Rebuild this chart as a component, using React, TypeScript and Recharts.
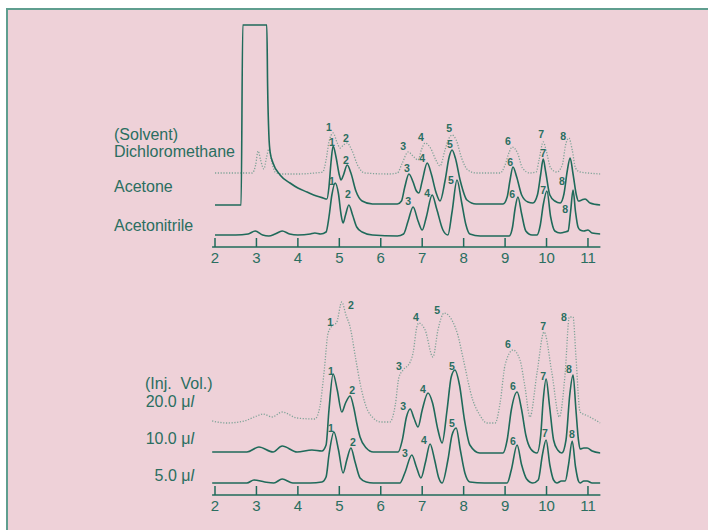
import React from "react";
import { ComposedChart, Line, Scatter, XAxis, YAxis } from "recharts";

// retention time ticks (min)
const ticks = [2, 3, 4, 5, 6, 7, 8, 9, 10, 11];

// ---- top panel: solvent comparison (detector signal, arbitrary units) ----
const dcmTrace = [
  { t: 2.0, v: 74 }, { t: 2.9, v: 74 }, { t: 2.98, v: 82 }, { t: 3.04, v: 96 }, { t: 3.1, v: 87 },
  { t: 3.18, v: 78 }, { t: 3.24, v: 89 }, { t: 3.3, v: 98 }, { t: 3.36, v: 87 }, { t: 3.45, v: 75 },
  { t: 3.6, v: 73 }, { t: 4.0, v: 73 }, { t: 4.4, v: 74 }, { t: 4.6, v: 75 }, { t: 4.68, v: 87 },
  { t: 4.75, v: 105 }, { t: 4.85, v: 114 }, { t: 4.95, v: 104 }, { t: 5.02, v: 99 }, { t: 5.1, v: 102 },
  { t: 5.19, v: 104 }, { t: 5.3, v: 97 }, { t: 5.45, v: 81 }, { t: 5.62, v: 74 }, { t: 6.2, v: 73 },
  { t: 6.4, v: 74 }, { t: 6.52, v: 84 }, { t: 6.66, v: 95 }, { t: 6.8, v: 90 }, { t: 6.9, v: 87 },
  { t: 6.98, v: 97 }, { t: 7.07, v: 104 }, { t: 7.2, v: 99 }, { t: 7.33, v: 87 }, { t: 7.43, v: 81 },
  { t: 7.55, v: 97 }, { t: 7.65, v: 109 }, { t: 7.72, v: 112 }, { t: 7.82, v: 107 }, { t: 7.95, v: 89 },
  { t: 8.1, v: 77 }, { t: 8.3, v: 74 }, { t: 8.88, v: 74 }, { t: 9.0, v: 82 }, { t: 9.1, v: 95 },
  { t: 9.17, v: 100 }, { t: 9.3, v: 94 }, { t: 9.42, v: 79 }, { t: 9.6, v: 74 }, { t: 9.75, v: 75 },
  { t: 9.82, v: 87 }, { t: 9.92, v: 105 }, { t: 10.0, v: 95 }, { t: 10.1, v: 79 }, { t: 10.25, v: 75 },
  { t: 10.38, v: 82 }, { t: 10.46, v: 102 }, { t: 10.54, v: 109 }, { t: 10.62, v: 97 }, { t: 10.7, v: 79 },
  { t: 10.81, v: 75 }, { t: 11.0, v: 74 }, { t: 11.3, v: 73 },
];

const acetoneTrace = [
  { t: 2.0, v: 42 }, { t: 2.4, v: 42 }, { t: 2.63, v: 42 }, { t: 2.67, v: 222 }, { t: 3.25, v: 222 },
  { t: 3.27, v: 160 }, { t: 3.3, v: 112 }, { t: 3.33, v: 95 }, { t: 3.4, v: 84 }, { t: 3.57, v: 72 },
  { t: 3.81, v: 64 }, { t: 4.0, v: 59 }, { t: 4.22, v: 55 }, { t: 4.45, v: 51 }, { t: 4.61, v: 49 },
  { t: 4.7, v: 48 }, { t: 4.75, v: 60 }, { t: 4.8, v: 85 }, { t: 4.85, v: 101 }, { t: 4.92, v: 90 },
  { t: 5.0, v: 72 }, { t: 5.04, v: 67 }, { t: 5.1, v: 72 }, { t: 5.19, v: 82 }, { t: 5.28, v: 74 },
  { t: 5.4, v: 56 }, { t: 5.55, v: 46 }, { t: 5.8, v: 43 }, { t: 6.4, v: 43 }, { t: 6.5, v: 46 },
  { t: 6.58, v: 60 }, { t: 6.68, v: 73 }, { t: 6.78, v: 65 }, { t: 6.86, v: 56 }, { t: 6.92, v: 54 },
  { t: 7.0, v: 66 }, { t: 7.12, v: 84 }, { t: 7.22, v: 73 }, { t: 7.33, v: 55 }, { t: 7.43, v: 46 },
  { t: 7.55, v: 66 }, { t: 7.65, v: 90 }, { t: 7.72, v: 97 }, { t: 7.8, v: 89 }, { t: 7.92, v: 66 },
  { t: 8.08, v: 47 }, { t: 8.3, v: 43 }, { t: 8.95, v: 43 }, { t: 9.05, v: 50 }, { t: 9.12, v: 67 },
  { t: 9.19, v: 80 }, { t: 9.28, v: 70 }, { t: 9.4, v: 52 }, { t: 9.55, v: 45 }, { t: 9.67, v: 44 },
  { t: 9.78, v: 52 }, { t: 9.86, v: 73 }, { t: 9.92, v: 88 }, { t: 9.98, v: 75 }, { t: 10.08, v: 52 },
  { t: 10.2, v: 46 }, { t: 10.33, v: 44 }, { t: 10.42, v: 53 }, { t: 10.5, v: 76 }, { t: 10.57, v: 89 },
  { t: 10.64, v: 73 }, { t: 10.72, v: 52 }, { t: 10.77, v: 46 }, { t: 10.85, v: 47 }, { t: 10.93, v: 48 },
  { t: 11.05, v: 44 }, { t: 11.3, v: 42 },
];

const acetonitrileTrace = [
  { t: 2.0, v: 12 }, { t: 2.5, v: 12 }, { t: 2.8, v: 13 }, { t: 2.97, v: 16 }, { t: 3.15, v: 12 },
  { t: 3.3, v: 11 }, { t: 3.45, v: 13 }, { t: 3.62, v: 16 }, { t: 3.8, v: 13 }, { t: 4.0, v: 12 },
  { t: 4.3, v: 13 }, { t: 4.41, v: 14 }, { t: 4.55, v: 13 }, { t: 4.68, v: 15 }, { t: 4.75, v: 30 },
  { t: 4.82, v: 52 }, { t: 4.9, v: 64 }, { t: 4.98, v: 53 }, { t: 5.04, v: 33 }, { t: 5.09, v: 24 },
  { t: 5.15, v: 32 }, { t: 5.23, v: 42 }, { t: 5.32, v: 32 }, { t: 5.42, v: 20 }, { t: 5.55, v: 15 },
  { t: 5.8, v: 12 }, { t: 6.4, v: 11 }, { t: 6.55, v: 13 }, { t: 6.66, v: 26 }, { t: 6.78, v: 40 },
  { t: 6.9, v: 26 }, { t: 7.0, v: 17 }, { t: 7.1, v: 30 }, { t: 7.24, v: 52 }, { t: 7.35, v: 38 },
  { t: 7.5, v: 17 }, { t: 7.62, v: 12 }, { t: 7.72, v: 35 }, { t: 7.84, v: 67 }, { t: 7.95, v: 45 },
  { t: 8.05, v: 23 }, { t: 8.15, v: 13 }, { t: 8.4, v: 11 }, { t: 9.1, v: 11 }, { t: 9.18, v: 20 },
  { t: 9.24, v: 38 }, { t: 9.31, v: 50 }, { t: 9.4, v: 33 }, { t: 9.5, v: 16 }, { t: 9.65, v: 12 },
  { t: 9.77, v: 12 }, { t: 9.85, v: 22 }, { t: 9.92, v: 42 }, { t: 10.01, v: 56 }, { t: 10.1, v: 30 },
  { t: 10.2, v: 16 }, { t: 10.33, v: 14 }, { t: 10.45, v: 15 }, { t: 10.52, v: 16 }, { t: 10.58, v: 35 },
  { t: 10.64, v: 57 }, { t: 10.7, v: 35 }, { t: 10.76, v: 20 }, { t: 10.81, v: 17 }, { t: 10.9, v: 16 },
  { t: 11.0, v: 17 }, { t: 11.1, v: 14 }, { t: 11.3, v: 13 },
];

// peak number labels (t, height, number)
const dcmPeaks = [
  { t: 4.75, v: 120, n: "1" }, { t: 5.16, v: 109, n: "2" }, { t: 6.54, v: 101, n: "3" }, { t: 6.97, v: 110, n: "4" },
  { t: 7.65, v: 119, n: "5" }, { t: 9.07, v: 106, n: "6" }, { t: 9.87, v: 113, n: "7" }, { t: 10.4, v: 111, n: "8" },
];
const acetonePeaks = [
  { t: 4.82, v: 105, n: "1" }, { t: 5.16, v: 87, n: "2" }, { t: 6.63, v: 79, n: "3" }, { t: 7.0, v: 89, n: "4" },
  { t: 7.67, v: 103, n: "5" }, { t: 9.12, v: 85, n: "6" }, { t: 9.92, v: 94, n: "7" }, { t: 10.37, v: 66, n: "8" },
];
const acetonitrilePeaks = [
  { t: 4.82, v: 66, n: "1" }, { t: 5.21, v: 53, n: "2" }, { t: 6.66, v: 46, n: "3" }, { t: 7.12, v: 54, n: "4" },
  { t: 7.69, v: 67, n: "5" }, { t: 9.17, v: 53, n: "6" }, { t: 9.92, v: 57, n: "7" }, { t: 10.45, v: 38, n: "8" },
];

// ---- bottom panel: injection volume comparison ----
const vol20Trace = [
  { t: 1.93, v: 74 }, { t: 2.29, v: 72 }, { t: 2.7, v: 74 }, { t: 3.01, v: 79 }, { t: 3.16, v: 81 },
  { t: 3.38, v: 78 }, { t: 3.62, v: 83 }, { t: 3.98, v: 77 }, { t: 4.41, v: 76 }, { t: 4.53, v: 88 },
  { t: 4.63, v: 122 }, { t: 4.73, v: 162 }, { t: 4.85, v: 170 }, { t: 4.93, v: 172 }, { t: 5.06, v: 193 },
  { t: 5.16, v: 180 }, { t: 5.26, v: 168 }, { t: 5.4, v: 135 }, { t: 5.5, v: 112 }, { t: 5.65, v: 88 },
  { t: 5.82, v: 77 }, { t: 6.0, v: 73 }, { t: 6.22, v: 73 }, { t: 6.35, v: 90 }, { t: 6.44, v: 118 },
  { t: 6.54, v: 125 }, { t: 6.71, v: 133 }, { t: 6.78, v: 142 }, { t: 6.87, v: 168 }, { t: 6.92, v: 172 },
  { t: 7.07, v: 165 }, { t: 7.26, v: 138 }, { t: 7.38, v: 165 }, { t: 7.53, v: 182 }, { t: 7.74, v: 173 },
  { t: 7.86, v: 160 }, { t: 7.98, v: 138 }, { t: 8.22, v: 95 }, { t: 8.39, v: 80 }, { t: 8.56, v: 72 },
  { t: 8.76, v: 72 }, { t: 8.88, v: 92 }, { t: 9.0, v: 130 }, { t: 9.19, v: 145 }, { t: 9.36, v: 135 },
  { t: 9.48, v: 108 }, { t: 9.6, v: 78 }, { t: 9.77, v: 122 }, { t: 9.94, v: 163 }, { t: 10.13, v: 122 },
  { t: 10.31, v: 78 }, { t: 10.45, v: 122 }, { t: 10.55, v: 178 }, { t: 10.64, v: 178 }, { t: 10.71, v: 138 },
  { t: 10.81, v: 83 }, { t: 11.0, v: 79 }, { t: 11.3, v: 72 },
];

const vol10Trace = [
  { t: 1.93, v: 43 }, { t: 2.77, v: 43 }, { t: 3.06, v: 48 }, { t: 3.4, v: 43 }, { t: 3.62, v: 49 },
  { t: 3.98, v: 43 }, { t: 4.34, v: 45 }, { t: 4.58, v: 44 }, { t: 4.68, v: 50 }, { t: 4.75, v: 85 },
  { t: 4.85, v: 121 }, { t: 4.95, v: 105 }, { t: 5.06, v: 83 }, { t: 5.15, v: 92 }, { t: 5.26, v: 99 },
  { t: 5.35, v: 87 }, { t: 5.42, v: 72 }, { t: 5.5, v: 58 }, { t: 5.65, v: 47 }, { t: 5.82, v: 43 },
  { t: 6.42, v: 43 }, { t: 6.52, v: 55 }, { t: 6.62, v: 78 }, { t: 6.71, v: 86 }, { t: 6.8, v: 77 },
  { t: 6.9, v: 68 }, { t: 7.0, v: 85 }, { t: 7.14, v: 102 }, { t: 7.25, v: 92 }, { t: 7.38, v: 65 },
  { t: 7.48, v: 52 }, { t: 7.6, v: 85 }, { t: 7.7, v: 118 }, { t: 7.79, v: 125 }, { t: 7.9, v: 110 },
  { t: 8.02, v: 75 }, { t: 8.15, v: 50 }, { t: 8.39, v: 42 }, { t: 8.95, v: 42 }, { t: 9.05, v: 55 },
  { t: 9.15, v: 85 }, { t: 9.29, v: 103 }, { t: 9.4, v: 85 }, { t: 9.5, v: 60 }, { t: 9.62, v: 46 },
  { t: 9.77, v: 42 }, { t: 9.86, v: 60 }, { t: 9.92, v: 95 }, { t: 9.99, v: 116 }, { t: 10.07, v: 90 },
  { t: 10.17, v: 55 }, { t: 10.27, v: 45 }, { t: 10.37, v: 42 }, { t: 10.47, v: 55 }, { t: 10.56, v: 100 },
  { t: 10.64, v: 120 }, { t: 10.71, v: 85 }, { t: 10.77, v: 55 }, { t: 10.81, v: 46 }, { t: 10.9, v: 47 },
  { t: 10.98, v: 47 }, { t: 11.1, v: 44 }, { t: 11.3, v: 42 },
];

const vol5Trace = [
  { t: 1.93, v: 12 }, { t: 2.77, v: 12 }, { t: 2.94, v: 15 }, { t: 3.2, v: 13 }, { t: 3.42, v: 12 },
  { t: 3.62, v: 16 }, { t: 3.88, v: 12 }, { t: 4.3, v: 12 }, { t: 4.58, v: 13 }, { t: 4.68, v: 18 },
  { t: 4.75, v: 40 }, { t: 4.87, v: 63 }, { t: 4.98, v: 45 }, { t: 5.09, v: 22 }, { t: 5.18, v: 35 },
  { t: 5.28, v: 47 }, { t: 5.38, v: 33 }, { t: 5.5, v: 17 }, { t: 5.65, v: 13 }, { t: 5.82, v: 12 },
  { t: 6.46, v: 12 }, { t: 6.58, v: 22 }, { t: 6.75, v: 40 }, { t: 6.86, v: 28 }, { t: 6.97, v: 17 },
  { t: 7.08, v: 33 }, { t: 7.19, v: 51 }, { t: 7.3, v: 35 }, { t: 7.4, v: 17 }, { t: 7.48, v: 12 },
  { t: 7.62, v: 35 }, { t: 7.72, v: 60 }, { t: 7.82, v: 67 }, { t: 7.92, v: 45 }, { t: 8.03, v: 22 },
  { t: 8.15, v: 13 }, { t: 8.5, v: 12 }, { t: 9.05, v: 12 }, { t: 9.15, v: 25 }, { t: 9.29, v: 50 },
  { t: 9.4, v: 30 }, { t: 9.52, v: 16 }, { t: 9.67, v: 12 }, { t: 9.8, v: 15 }, { t: 9.9, v: 40 },
  { t: 9.99, v: 55 }, { t: 10.08, v: 30 }, { t: 10.17, v: 15 }, { t: 10.25, v: 12 }, { t: 10.36, v: 14 },
  { t: 10.45, v: 14 }, { t: 10.53, v: 30 }, { t: 10.62, v: 54 }, { t: 10.7, v: 28 }, { t: 10.77, v: 14 },
  { t: 10.81, v: 12 }, { t: 10.9, v: 14 }, { t: 10.98, v: 14 }, { t: 11.1, v: 12 }, { t: 11.3, v: 12 },
];

const vol20Peaks = [
  { t: 4.78, v: 173, n: "1" }, { t: 5.28, v: 190, n: "2" }, { t: 6.44, v: 129, n: "3" }, { t: 6.85, v: 178, n: "4" },
  { t: 7.36, v: 185, n: "5" }, { t: 9.07, v: 151, n: "6" }, { t: 9.92, v: 169, n: "7" }, { t: 10.42, v: 178, n: "8" },
];
const vol10Peaks = [
  { t: 4.8, v: 124, n: "1" }, { t: 5.31, v: 105, n: "2" }, { t: 6.54, v: 89, n: "3" }, { t: 7.02, v: 106, n: "4" },
  { t: 7.72, v: 129, n: "5" }, { t: 9.19, v: 109, n: "6" }, { t: 9.92, v: 119, n: "7" }, { t: 10.54, v: 126, n: "8" },
];
const vol5Peaks = [
  { t: 4.8, v: 67, n: "1" }, { t: 5.33, v: 53, n: "2" }, { t: 6.58, v: 42, n: "3" }, { t: 7.04, v: 55, n: "4" },
  { t: 7.72, v: 72, n: "5" }, { t: 9.19, v: 54, n: "6" }, { t: 9.96, v: 62, n: "7" }, { t: 10.61, v: 61, n: "8" },
];

const FONT = "'Liberation Sans', Arial, Helvetica, sans-serif";
const TEAL = "#1f6a5a";
const TEXT = "#2a6e60";
const DOTTED = "#7fa398";
const PINK = "#eed1d8";

const AxisTick = (props: any) => {
  const { x, y, payload } = props;
  return (
    <g>
      <line x1={x} x2={x} y1={y - 9} y2={y} stroke={TEAL} strokeWidth={1.5} />
      <text x={x} y={y + 16} textAnchor="middle" fontSize={15} fontFamily={FONT} fill={TEXT}>
        {payload.value}
      </text>
    </g>
  );
};

const PeakNumber = (props: any) => {
  const { cx, cy, payload } = props;
  return (
    <text x={cx} y={cy} textAnchor="middle" dominantBaseline="central" fontSize={10.5} fontWeight="bold" fontFamily={FONT} fill={TEXT}>
      {payload.n}
    </text>
  );
};

const margin = { top: 0, right: 107.6, bottom: 0, left: 212.1 };

function Panel({ height, top, yMax, axisH, bottom, solid, dotted, peaks }: any) {
  return (
    <ComposedChart width={708} height={height} margin={{ ...margin, top, bottom }}>
      <XAxis
        dataKey="t"
        type="number"
        domain={[1.93, 11.3]}
        allowDataOverflow
        ticks={ticks}
        interval={0}
        height={axisH}
        tickSize={0}
        tickMargin={0}
        tickLine={false}
        axisLine={{ stroke: TEAL, strokeWidth: 1.5 }}
        tick={<AxisTick />}
      />
      <YAxis hide type="number" domain={[0, yMax]} allowDataOverflow />
      <Line data={dotted} dataKey="v" type="monotone" stroke={DOTTED} strokeWidth={1.3} strokeDasharray="1.2 1.6" dot={false} isAnimationActive={false} />
      {solid.map((d: any, i: number) => (
        <Line key={i} data={d} dataKey="v" type="monotone" stroke={TEAL} strokeWidth={1.6} dot={false} isAnimationActive={false} />
      ))}
      {peaks.map((p: any, i: number) => (
        <Scatter key={"p" + i} data={p} dataKey="v" shape={<PeakNumber />} isAnimationActive={false} />
      ))}
    </ComposedChart>
  );
}

const label = (text: any, left: number, cy: number, align: "left" | "right" = "left", width = 160) => (
  <div
    style={{
      position: "absolute",
      left: align === "left" ? left : left - width,
      width,
      top: cy - 9,
      height: 18,
      lineHeight: "18px",
      fontSize: 16,
      fontFamily: FONT,
      color: TEXT,
      textAlign: align,
      whiteSpace: "pre",
    }}
  >
    {text}
  </div>
);

const vol = (n: string) => (
  <>
    {n + " μ"}
    <i>l</i>
  </>
);

export default function App() {
  return (
    <div style={{ position: "absolute", left: 0, top: 0, width: 708, height: 530, background: "#fff", overflow: "hidden" }}>
      <div
        style={{
          position: "absolute",
          left: 6,
          top: 8,
          width: 702,
          height: 522,
          boxSizing: "border-box",
          borderTop: "2px solid #5f9e8f",
          borderLeft: "2px solid #5f9e8f",
          background: PINK,
        }}
      />
      <div style={{ position: "absolute", left: 0, top: 0 }}>
        <Panel
          height={275}
          top={17}
          bottom={0}
          axisH={28}
          yMax={230}
          dotted={dcmTrace}
          solid={[acetoneTrace, acetonitrileTrace]}
          peaks={[dcmPeaks, acetonePeaks, acetonitrilePeaks]}
        />
      </div>
      <div style={{ position: "absolute", left: 0, top: 275 }}>
        <Panel
          height={255}
          top={15}
          bottom={5}
          axisH={30}
          yMax={205}
          dotted={vol20Trace}
          solid={[vol10Trace, vol5Trace]}
          peaks={[vol20Peaks, vol10Peaks, vol5Peaks]}
        />
      </div>
      {label("(Solvent)", 114, 135)}
      {label("Dichloromethane", 114, 152)}
      {label("Acetone", 114, 187)}
      {label("Acetonitrile", 114, 226)}
      {label("(Inj.  Vol.)", 145, 384)}
      {label(vol("20.0"), 194, 402, "right", 80)}
      {label(vol("10.0"), 194, 439, "right", 80)}
      {label(vol("5.0"), 194, 476, "right", 80)}
    </div>
  );
}
